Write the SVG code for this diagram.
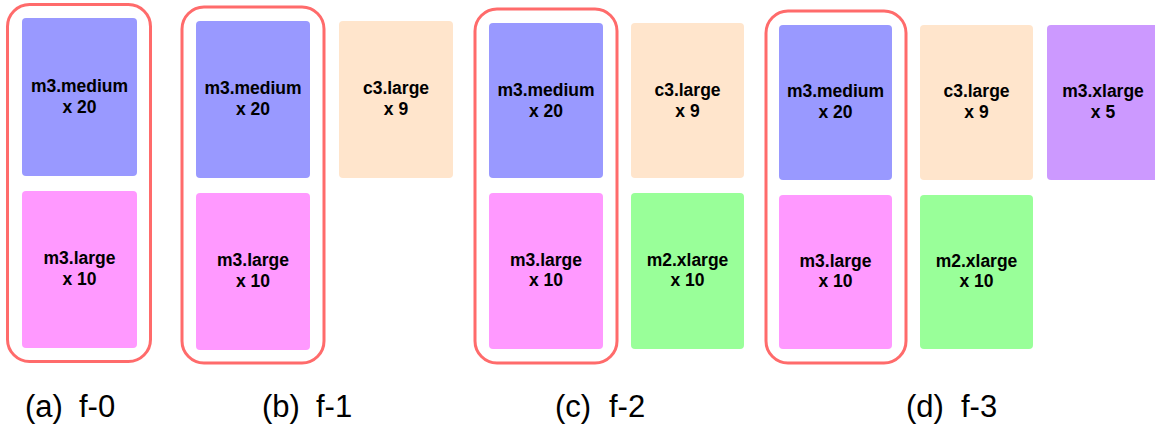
<svg xmlns="http://www.w3.org/2000/svg" width="1155" height="432" viewBox="0 0 1155 432">
  <style>
    .group { fill: none; stroke: #FF6B6B; stroke-width: 3; }
    .node { rx: 4; ry: 4; }
    .medium { fill: #9999FF; }
    .large { fill: #FF99FF; }
    .c3 { fill: #FFE5CC; }
    .m2 { fill: #99FF99; }
    .xl { fill: #CC99FF; }
    .lbl { font-family: "Liberation Sans", Arial, sans-serif; font-weight: bold; font-size: 17.5px; fill: #000; text-anchor: middle; }
    .cap { font-family: "Liberation Sans", Arial, sans-serif; font-size: 31px; fill: #000; }
  </style>
  <rect width="1155" height="432" fill="#FFFFFF"/>

  <!-- (a) f-0 -->
  <g id="group-a">
    <rect class="group" x="7.5" y="4.5" width="143" height="357" rx="22"/>
  </g>
  <g id="a-m3medium">
    <rect class="node medium" x="22" y="18" width="115" height="158"/>
    <text class="lbl" x="79.5" y="92">m3.medium</text>
    <text class="lbl" x="79.5" y="113">x 20</text>
  </g>
  <g id="a-m3large">
    <rect class="node large" x="22" y="191" width="115" height="157"/>
    <text class="lbl" x="79.5" y="264">m3.large</text>
    <text class="lbl" x="79.5" y="285">x 10</text>
  </g>

  <!-- (b) f-1 -->
  <g id="group-b">
    <rect class="group" x="182" y="7" width="142" height="356" rx="22"/>
  </g>
  <g id="b-m3medium">
    <rect class="node medium" x="196" y="21" width="114" height="157"/>
    <text class="lbl" x="253" y="94">m3.medium</text>
    <text class="lbl" x="253" y="115">x 20</text>
  </g>
  <g id="b-m3large">
    <rect class="node large" x="196" y="193" width="114" height="157"/>
    <text class="lbl" x="253" y="266">m3.large</text>
    <text class="lbl" x="253" y="287">x 10</text>
  </g>
  <g id="b-c3large">
    <rect class="node c3" x="339" y="21" width="114" height="157"/>
    <text class="lbl" x="396" y="94">c3.large</text>
    <text class="lbl" x="396" y="115">x 9</text>
  </g>

  <!-- (c) f-2 -->
  <g id="group-c">
    <rect class="group" x="475" y="9" width="142" height="354" rx="22"/>
  </g>
  <g id="c-m3medium">
    <rect class="node medium" x="489" y="23" width="114" height="155"/>
    <text class="lbl" x="546" y="96">m3.medium</text>
    <text class="lbl" x="546" y="117">x 20</text>
  </g>
  <g id="c-m3large">
    <rect class="node large" x="489" y="193" width="114" height="156"/>
    <text class="lbl" x="546" y="266">m3.large</text>
    <text class="lbl" x="546" y="286">x 10</text>
  </g>
  <g id="c-c3large">
    <rect class="node c3" x="631" y="23" width="113" height="155"/>
    <text class="lbl" x="687.5" y="96">c3.large</text>
    <text class="lbl" x="687.5" y="117">x 9</text>
  </g>
  <g id="c-m2xlarge">
    <rect class="node m2" x="631" y="193" width="113" height="156"/>
    <text class="lbl" x="687.5" y="266">m2.xlarge</text>
    <text class="lbl" x="687.5" y="286">x 10</text>
  </g>

  <!-- (d) f-3 -->
  <g id="group-d">
    <rect class="group" x="766" y="11" width="140" height="352" rx="22"/>
  </g>
  <g id="d-m3medium">
    <rect class="node medium" x="779" y="25" width="113" height="155"/>
    <text class="lbl" x="835.5" y="97">m3.medium</text>
    <text class="lbl" x="835.5" y="118">x 20</text>
  </g>
  <g id="d-m3large">
    <rect class="node large" x="779" y="195" width="113" height="154"/>
    <text class="lbl" x="835.5" y="267">m3.large</text>
    <text class="lbl" x="835.5" y="287">x 10</text>
  </g>
  <g id="d-c3large">
    <rect class="node c3" x="920" y="25" width="113" height="155"/>
    <text class="lbl" x="976.5" y="97">c3.large</text>
    <text class="lbl" x="976.5" y="118">x 9</text>
  </g>
  <g id="d-m2xlarge">
    <rect class="node m2" x="920" y="195" width="113" height="154"/>
    <text class="lbl" x="976.5" y="267">m2.xlarge</text>
    <text class="lbl" x="976.5" y="287">x 10</text>
  </g>
  <g id="d-m3xlarge">
    <rect class="node xl" x="1047" y="25" width="113" height="155"/>
    <text class="lbl" x="1103" y="97">m3.xlarge</text>
    <text class="lbl" x="1103" y="118">x 5</text>
  </g>

  <!-- connectors: none in this figure -->
  <g id="connectors"/>

  <!-- sub-figure captions -->
  <g id="captions">
    <text class="cap" x="25" y="417">(a)<tspan x="79">f-0</tspan></text>
    <text class="cap" x="262" y="417">(b)<tspan x="316">f-1</tspan></text>
    <text class="cap" x="555" y="417">(c)<tspan x="609">f-2</tspan></text>
    <text class="cap" x="906" y="417">(d)<tspan x="961">f-3</tspan></text>
  </g>
</svg>
